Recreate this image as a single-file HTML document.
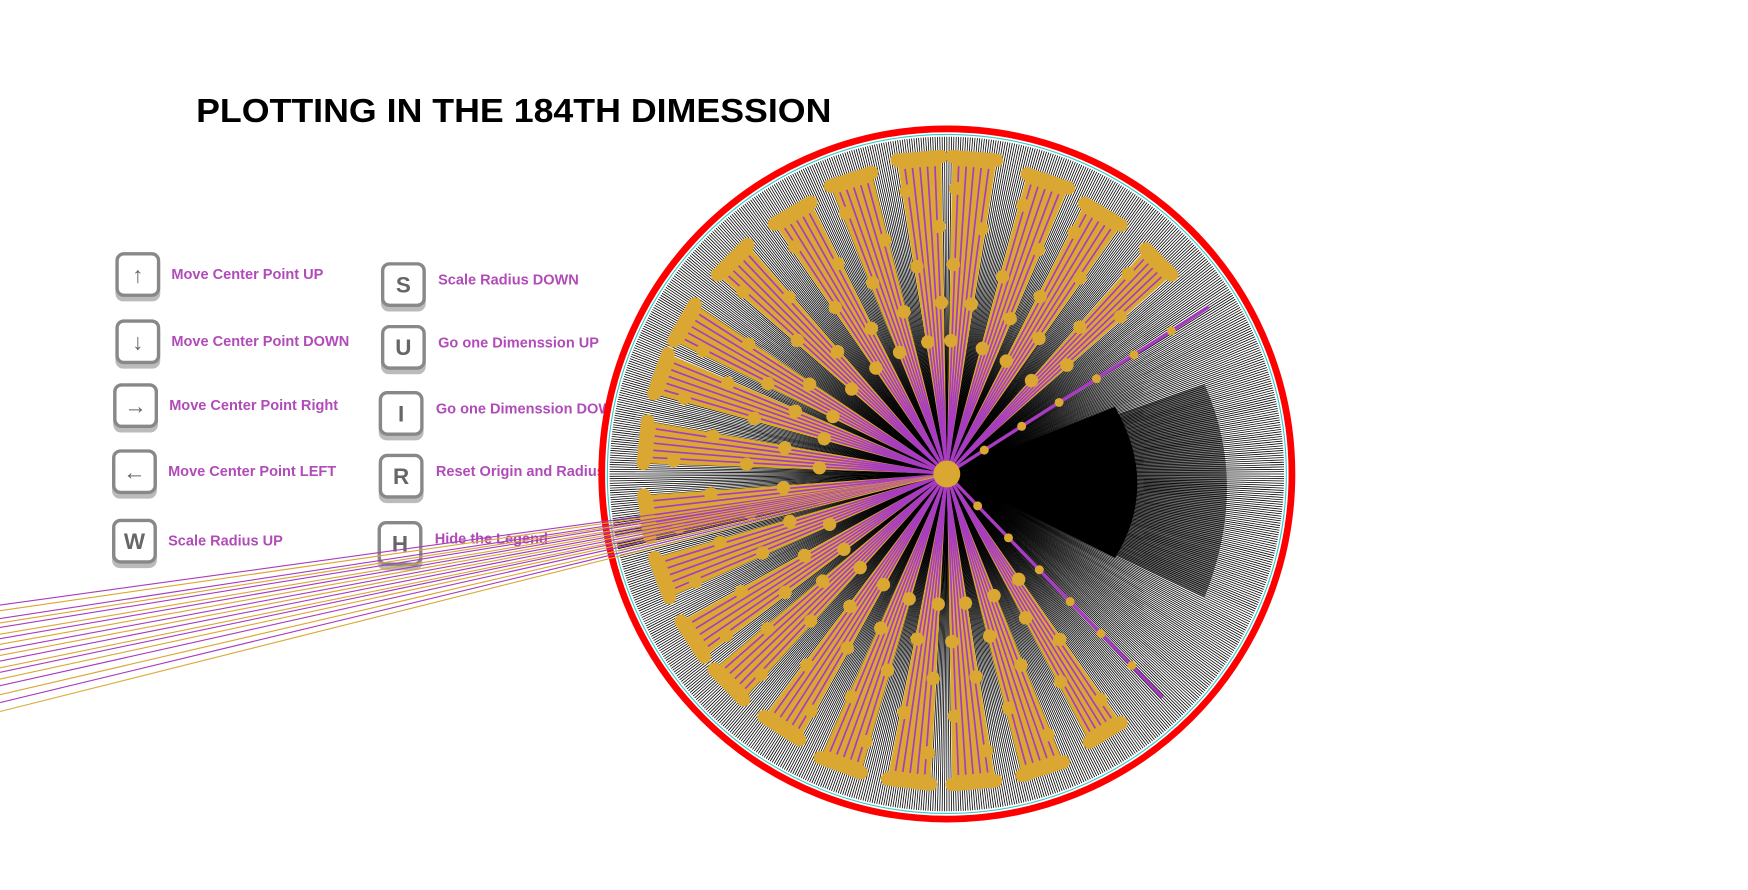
<!DOCTYPE html>
<html><head><meta charset="utf-8"><style>
html,body{margin:0;padding:0;background:#fff;width:1748px;height:890px;overflow:hidden}
svg{display:block}
.lab{font-family:"Liberation Sans Narrow","Liberation Sans",sans-serif;font-weight:bold;font-size:13px;fill:#b04bb8}
.key{font-family:"Liberation Sans",sans-serif;font-weight:bold;font-size:20px;fill:#666}
</style></head><body>
<svg id="chart" width="1748" height="890" viewBox="0 0 1748 890">
<g transform="scale(1.1205)">
<text x="175" y="109" font-family="Liberation Sans, sans-serif" font-size="30" font-weight="bold" textLength="567" lengthAdjust="spacingAndGlyphs" fill="#000">PLOTTING IN THE  184TH DIMESSION</text>
<g id="legend"></g>
<g id="plot"></g>
</g>
</svg>
<script>
const spokeAngles=[-108,-95,-85,-71,-59,-45,-32.5,-120.6,-135,-150,-160.7,-174,172,160,147,136,123,110,97,85,72,58.5,46];
const spokeLengths=[0.9,0.92,0.92,0.9,0.88,0.87,0.9,0.88,0.88,0.88,0.88,0.88,0.88,0.88,0.88,0.88,0.88,0.9,0.9,0.9,0.9,0.88,0.9];
const spokeWidths=[4,4,4,4,4,3.5,1,4,4,4,4,4,4,4,4,4,4,4,4,4,4,3.5,1];
const exitY=[540,545,552,556,560,566,570,575,580,585,590,596,600,606,612,620,627,635];
const legendKeys=["↑","↓","→","←","W","S","U","I","R","H"];
const legendLabels=["Move Center Point UP","Move Center Point DOWN","Move Center Point Right","Move Center Point LEFT","Scale Radius UP","Scale Radius DOWN","Go one Dimenssion UP","Go one Dimenssion DOWN","Reset Origin and Radius","Hide the Legend"];
const NS="http://www.w3.org/2000/svg";
const cx=845,cy=423,R=308;
function mk(t,a,p){const e=document.createElementNS(NS,t);for(const k in a)e.setAttribute(k,a[k]);p.appendChild(e);return e;}
const lg=document.getElementById('legend');
const kx=[103,103,101,100,100,340,340,338,338,337],ky=[225,285,342,401,463,234,290,349,405,465];
legendKeys.forEach((k,i)=>{
 const g=mk('g',{},lg);
 
 
 mk('rect',{x:kx[i],y:ky[i]+4,width:40,height:40,rx:7,fill:'#bbb'},g);
 const r=mk('rect',{x:kx[i]+1.5,y:ky[i]+1.5,width:37,height:37,rx:6,fill:'#fff',stroke:'#888','stroke-width':3},g);
 
 
 const t=mk('text',{x:kx[i]+20,y:ky[i]+27,'text-anchor':'middle',class:'key'},g);t.textContent=k;
 const l=mk('text',{x:kx[i]+(i<5?50:51),y:ky[i]+(i<5?24:20),class:'lab'},g);l.textContent=legendLabels[i];
 
 
});
const p=document.getElementById('plot');
const c=mk('circle',{cx,cy,r:R,fill:'#fff',stroke:'red','stroke-width':6},p);


mk('circle',{cx,cy,r:R-5,fill:'none',stroke:'#3cc','stroke-width':1},p);
const bg=mk('g',{stroke:'#000'},p);


for(let i=0;i<900;i++){const a=i/900*2*Math.PI;mk('line',{x1:cx,y1:cy,x2:cx+(R-7)*Math.cos(a),y2:cy+(R-7)*Math.sin(a),'stroke-width':0.7},bg);}
mk('path',{d:`M${cx},${cy} L${cx+150},${cy-60} Q${cx+190},${cy+10} ${cx+150},${cy+75} Z`,fill:'#000'},p);
mk('path',{d:`M${cx},${cy} L${cx+230},${cy-80} Q${cx+270},${cy+10} ${cx+230},${cy+110} Z`,fill:'#000',opacity:0.5},p);
function pt(a,r){const t=a*Math.PI/180;return [cx+r*Math.cos(t),cy+r*Math.sin(t)];}
spokeAngles.forEach((a,i)=>{
 const L=spokeLengths[i]*R,w=spokeWidths[i];
 const g=mk('g',{},p);
 
 
 if(w>2){
  const A=pt(a-w,L),B=pt(a+w,L);
  mk('path',{d:`M${cx},${cy} L${A[0]},${A[1]} L${B[0]},${B[1]} Z`,fill:'#daa832'},g);
  for(let k=-2;k<=2;k++){const E=pt(a+k*w*0.35,L*0.97);mk('line',{x1:cx,y1:cy,x2:E[0],y2:E[1],stroke:'#a83cc0','stroke-width':1.5},g);}
  for(let k=1;k<6;k++){const E=pt(a+(k%2?-1:1)*w*0.8,L*(0.3+k*0.12));mk('circle',{cx:E[0],cy:E[1],r:6,fill:'#daa832'},g);}
  mk('line',{x1:A[0],y1:A[1],x2:B[0],y2:B[1],stroke:'#daa832','stroke-width':12,'stroke-linecap':'round'},g);
 }else{
  const E=pt(a,L);mk('line',{x1:cx,y1:cy,x2:E[0],y2:E[1],stroke:'#a83cc0','stroke-width':3},g);
  for(let k=1;k<7;k++){const F=pt(a,L*k/7);mk('circle',{cx:F[0],cy:F[1],r:4,fill:'#daa832'},g);}
 }
});
const ex=mk('g',{},p);


exitY.forEach((y,i)=>{mk('line',{x1:cx,y1:cy,x2:0,y2:y,stroke:i%2?'#daa832':'#a83cc0','stroke-width':1},ex);});
mk('circle',{cx,cy,r:12,fill:'#daa832'},p);
</script>
</body></html>
